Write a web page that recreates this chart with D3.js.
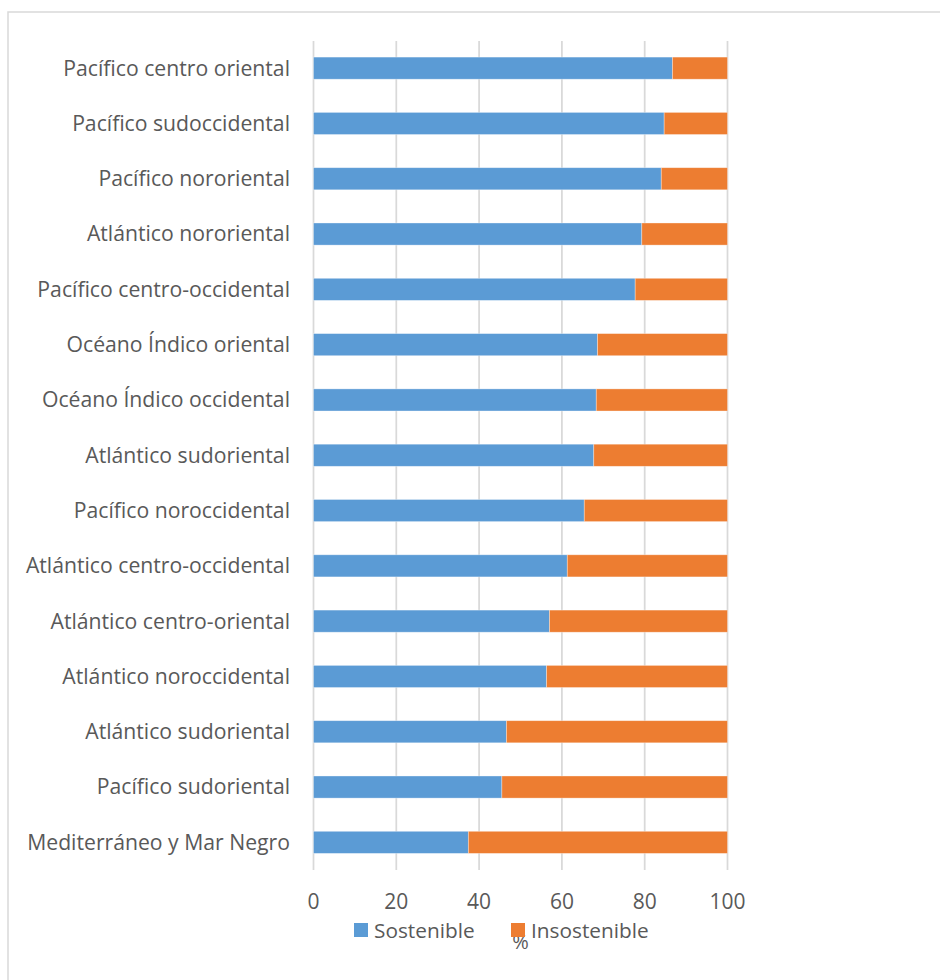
<!DOCTYPE html>
<html>
<head>
<meta charset="utf-8">
<script src="https://cdn.jsdelivr.net/npm/d3@7"></script>
<style>
  html, body { margin: 0; padding: 0; background: #fff; }
  svg { display: block; }
  text { font-family: "Open Sans", sans-serif; fill: #595959; }
</style>
</head>
<body>
<svg id="chart" width="940" height="980"></svg>
<script>
const categories = [
  "Pacífico centro oriental",
  "Pacífico sudoccidental",
  "Pacífico nororiental",
  "Atlántico nororiental",
  "Pacífico centro-occidental",
  "Océano Índico oriental",
  "Océano Índico occidental",
  "Atlántico sudoriental",
  "Pacífico noroccidental",
  "Atlántico centro-occidental",
  "Atlántico centro-oriental",
  "Atlántico noroccidental",
  "Atlántico sudoriental",
  "Pacífico sudoriental",
  "Mediterráneo y Mar Negro"
];
const sostenible = [86.7, 84.7, 84.0, 79.3, 77.7, 68.6, 68.3, 67.7, 65.4, 61.3, 57.0, 56.3, 46.6, 45.5, 37.4];
const insostenible = [13.3, 15.3, 16.0, 20.7, 22.3, 31.4, 31.7, 32.3, 34.6, 38.7, 43.0, 43.7, 53.4, 54.5, 62.6];
const xTicks = [0, 20, 40, 60, 80, 100];
const seriesNames = ["Sostenible", "Insostenible"];
const seriesColors = ["#5b9bd5", "#ed7d31"];
const axisTitle = "%";

const svg = d3.select("#chart");
svg.append("rect").attr("width", 940).attr("height", 980).attr("fill", "#fff");
svg.append("rect").attr("x", 8).attr("y", 12).attr("width", 1000).attr("height", 1000)
  .attr("fill", "none").attr("stroke", "#d9d9d9").attr("stroke-width", 1.5);

const x = d3.scaleLinear().domain([0, 100]).range([313.5, 727.5]);
const rows = categories.map((c, i) => ({ key: i, name: c }));
const y = d3.scaleBand().domain(rows.map(r => r.key)).range([40.5, 870])
  .paddingInner(0.6).paddingOuter(0.3);

// gridlines
svg.append("g").selectAll("line").data(xTicks).join("line")
  .attr("x1", d => x(d)).attr("x2", d => x(d))
  .attr("y1", 41).attr("y2", 870)
  .attr("stroke", "#d9d9d9").attr("stroke-width", 1.75);

// stacked bars
const stackData = categories.map((c, i) => ({ key: i, Sostenible: sostenible[i], Insostenible: insostenible[i] }));
const stacked = d3.stack().keys(seriesNames)(stackData);
svg.append("g").selectAll("g").data(stacked).join("g")
  .attr("fill", (d, i) => seriesColors[i])
  .selectAll("rect").data(d => d).join("rect")
  .attr("x", d => x(d[0]))
  .attr("width", d => x(d[1]) - x(d[0]))
  .attr("y", d => y(d.data.key))
  .attr("height", y.bandwidth())
  .attr("stroke", "#fff").attr("stroke-opacity", 0.45).attr("stroke-width", 0.75);

// category labels
svg.append("g").selectAll("text").data(rows).join("text")
  .attr("x", 290)
  .attr("y", d => y(d.key) + y.bandwidth() / 2)
  .attr("dy", "0.35em")
  .attr("text-anchor", "end")
  .attr("font-size", 21.2)
  .text(d => d.name);

// x tick labels
svg.append("g").selectAll("text").data(xTicks).join("text")
  .attr("x", d => x(d)).attr("y", 909)
  .attr("text-anchor", "middle")
  .attr("font-size", 21)
  .text(d => d);

// axis title
svg.append("text").attr("x", 520.5).attr("y", 949)
  .attr("text-anchor", "middle").attr("font-size", 20).text(axisTitle);

// legend
const legendX = [354, 511];
const lg = svg.append("g").selectAll("g").data(seriesNames).join("g")
  .attr("transform", (d, i) => `translate(${legendX[i]},923)`);
lg.append("rect").attr("width", 14).attr("height", 14).attr("fill", (d, i) => seriesColors[i]);
lg.append("text").attr("x", 20).attr("y", 14.5).attr("font-size", 20.8).text(d => d);
</script>
</body>
</html>
